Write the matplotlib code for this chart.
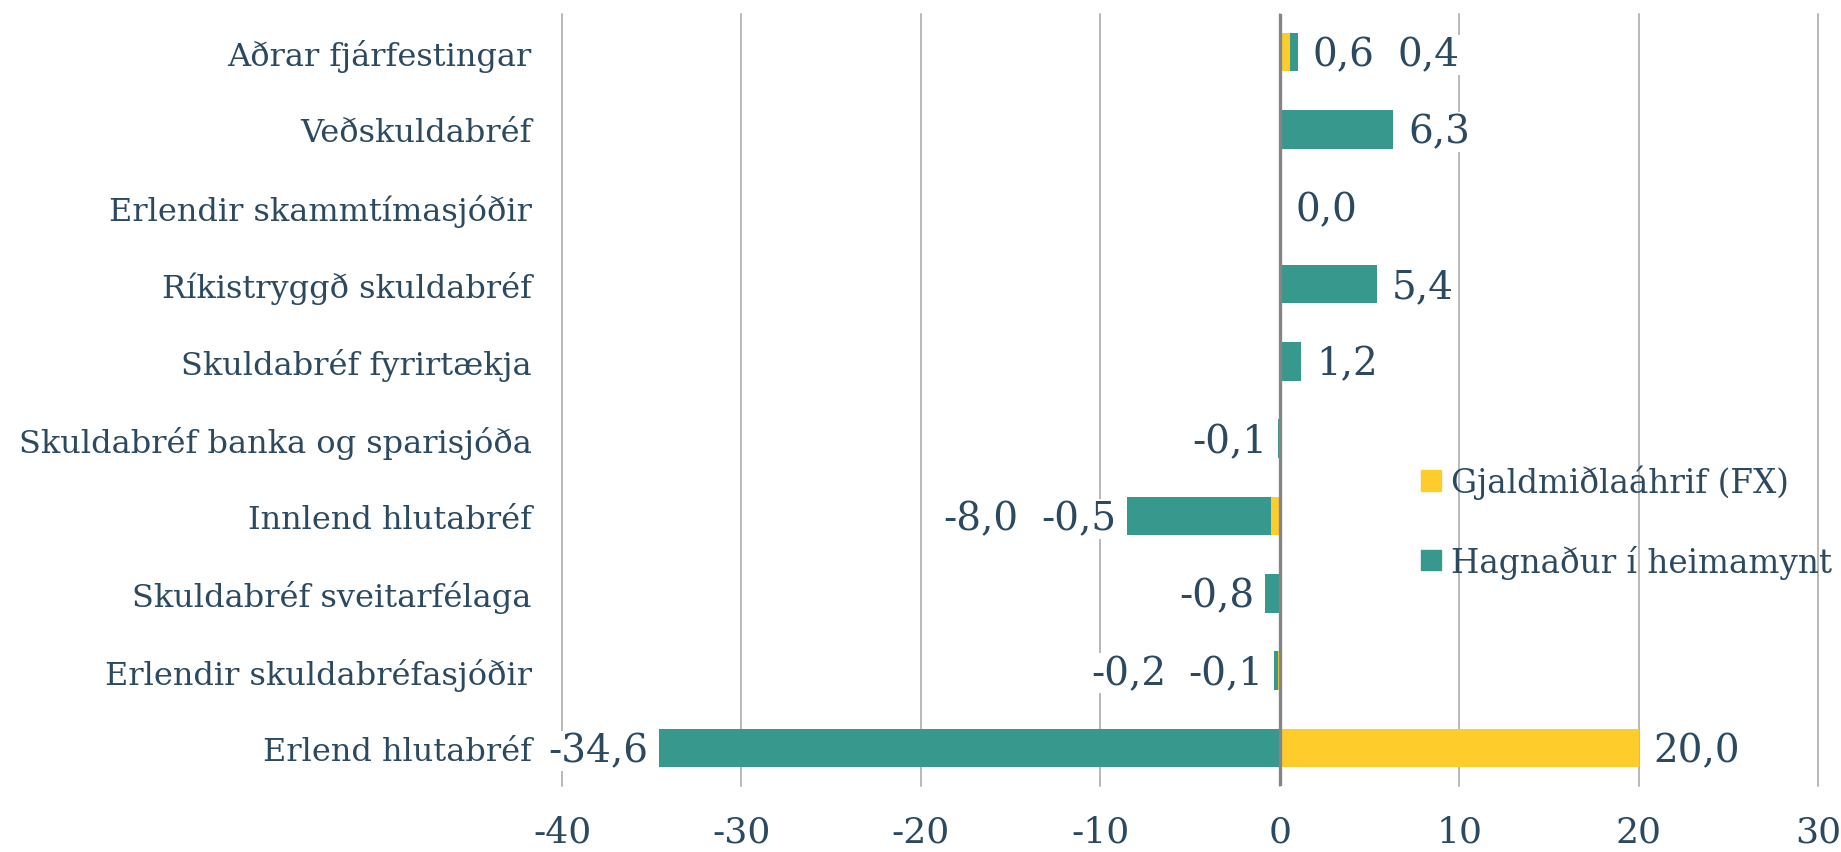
import matplotlib
matplotlib.use("Agg")
import matplotlib.pyplot as plt
from matplotlib.patches import Patch
import numpy as np


# Gögn lesin af myndinni (efst til neðst)
categories = [
    "Aðrar fjárfestingar",
    "Veðskuldabréf",
    "Erlendir skammtímasjóðir",
    "Ríkistryggð skuldabréf",
    "Skuldabréf fyrirtækja",
    "Skuldabréf banka og sparisjóða",
    "Innlend hlutabréf",
    "Skuldabréf sveitarfélaga",
    "Erlendir skuldabréfasjóðir",
    "Erlend hlutabréf",
]
fx_values = [0.6, 0.0, 0.0, 0.0, 0.0, 0.0, -0.5, 0.0, -0.1, 20.0]
home_values = [0.4, 6.3, 0.0, 5.4, 1.2, -0.1, -8.0, -0.8, -0.2, -34.6]

x_ticks = [-40, -30, -20, -10, 0, 10, 20, 30]

series_names = ["Gjaldmiðlaáhrif (FX)", "Hagnaður í heimamynt"]

FX_COLOR = "#FFCD2B"
HOME_COLOR = "#37988D"
TEXT_COLOR = "#2B4A61"
GRID_COLOR = "#A6A6A6"

plt.rcParams["font.family"] = ["DejaVu Serif"]
plt.rcParams["axes.unicode_minus"] = False


def fmt(v):
    return f"{v:.1f}".replace(".", ",")


fig = plt.figure(figsize=(18.41, 8.53), dpi=100)
ax = fig.add_axes([0.3053, 0.0768, 0.6822, 0.9062])

y = np.arange(len(categories))
fx = np.array(fx_values)
home = np.array(home_values)

# staflaðar súlur: jákvæð gildi til hægri, neikvæð til vinstri
fx_left = np.zeros(len(fx))
home_left = np.where(np.sign(home) == np.sign(fx), fx, 0.0)
ax.barh(y, fx, left=fx_left, height=0.5, color=FX_COLOR, zorder=2)
ax.barh(y, home, left=home_left, height=0.5, color=HOME_COLOR, zorder=2)

ax.axvline(0, color="#858585", lw=2.4, zorder=3)

ax.set_xlim(-40, 30)
ax.set_ylim(len(categories) - 0.5, -0.5)
ax.set_xticks(x_ticks)
ax.set_xticklabels([str(t) for t in x_ticks])
ax.set_yticks(y)
ax.set_yticklabels(categories)
ax.tick_params(axis="x", length=0, pad=20, labelsize=26, colors=TEXT_COLOR)
ax.tick_params(axis="y", length=0, pad=22, labelsize=23, colors=TEXT_COLOR)
ax.grid(axis="x", color=GRID_COLOR, lw=1.1, zorder=0)
ax.set_axisbelow(True)
for line in ax.get_xgridlines():
    line.set_clip_on(False)
for spine in ax.spines.values():
    spine.set_visible(False)

# gagnamerki
label_kw = dict(
    fontsize=28,
    color=TEXT_COLOR,
    va="center",
    textcoords="offset points",
    bbox=dict(fc="white", ec="none", pad=1),
    zorder=4,
)
for i in range(len(categories)):
    pos_end = 0.0
    neg_end = 0.0
    pos_labels = []
    neg_labels = []
    for v, show in ((fx[i], fx[i] != 0), (home[i], True)):
        if not show:
            continue
        if v >= 0:
            pos_end += v
            pos_labels.append(v)
        else:
            neg_end += v
            neg_labels.append(v)

    prev = None
    for v in pos_labels:
        if prev is None:
            prev = ax.annotate(fmt(v), xy=(pos_end, i), xytext=(11, -2), ha="left", **label_kw)
        else:
            prev = ax.annotate(fmt(v), xy=(1, 0.5), xycoords=prev, xytext=(16, 0), ha="left", **label_kw)
    prev = None
    for v in neg_labels:
        if prev is None:
            prev = ax.annotate(fmt(v), xy=(neg_end, i), xytext=(-8, -2), ha="right", **label_kw)
        else:
            prev = ax.annotate(fmt(v), xy=(0, 0.5), xycoords=prev, xytext=(-16, 0), ha="right", **label_kw)

handles = [Patch(color=FX_COLOR), Patch(color=HOME_COLOR)]
leg = fig.legend(
    handles,
    series_names,
    loc="center left",
    bbox_to_anchor=(0.772, 0.3875),
    frameon=False,
    fontsize=23.5,
    handlelength=0.6,
    handleheight=0.6,
    handletextpad=0.3,
    labelspacing=1.4,
    borderpad=0,
    borderaxespad=0,
)
for t in leg.get_texts():
    t.set_color(TEXT_COLOR)

fig.savefig("out.png", dpi=100)
